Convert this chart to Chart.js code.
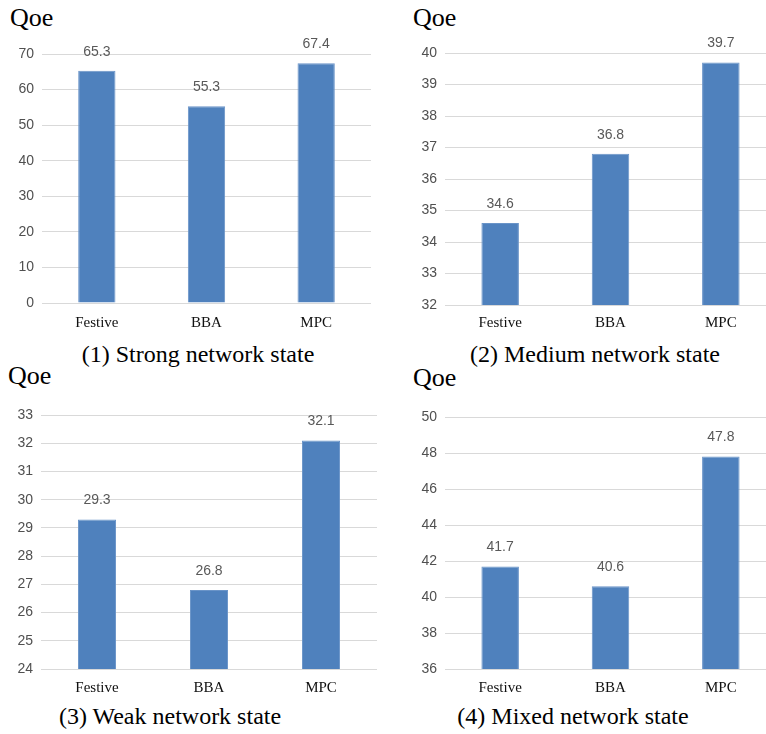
<!DOCTYPE html>
<html>
<head>
<meta charset="utf-8">
<script src="https://cdn.jsdelivr.net/npm/chart.js@4.4.0/dist/chart.umd.min.js"></script>
<style>
  html, body { margin: 0; padding: 0; background: #fff; overflow: hidden; }
  body { width: 766px; height: 734px; position: relative; }
  .box { position: absolute; }
  .txt { position: absolute; font-family: "Liberation Serif", "Times New Roman", serif; color: #000; line-height: 1; white-space: nowrap; }
  .qoe { font-size: 26px; }
  .cap { font-size: 24px; width: 340px; text-align: center; }
</style>
</head>
<body>

<div class="txt qoe" style="left:10px; top:5px;">Qoe</div>
<div class="txt qoe" style="left:413px; top:5px;">Qoe</div>
<div class="txt qoe" style="left:8px; top:363px;">Qoe</div>
<div class="txt qoe" style="left:413px; top:365px;">Qoe</div>

<div class="txt cap" style="left:28px; top:342px;">(1) Strong network state</div>
<div class="txt cap" style="left:425px; top:342px;">(2) Medium network state</div>
<div class="txt cap" style="left:0px; top:704px;">(3) Weak network state</div>
<div class="txt cap" style="left:403px; top:704px;">(4) Mixed network state</div>

<div class="box" style="left:0px; top:0px;"><canvas id="c1" width="383" height="340"></canvas></div>
<div class="box" style="left:383px; top:0px;"><canvas id="c2" width="400" height="340"></canvas></div>
<div class="box" style="left:0px; top:360px;"><canvas id="c3" width="383" height="340"></canvas></div>
<div class="box" style="left:383px; top:360px;"><canvas id="c4" width="400" height="340"></canvas></div>

<script>
// data
var methods = ['Festive', 'BBA', 'MPC'];
var strongQoe = [65.3, 55.3, 67.4];
var mediumQoe = [34.6, 36.8, 39.7];
var weakQoe = [29.3, 26.8, 32.1];
var mixedQoe = [41.7, 40.6, 47.8];

var strongTicks = [0, 70, 10];
var mediumTicks = [32, 40, 1];
var weakTicks = [24, 33, 1];
var mixedTicks = [36, 50, 2];

var barColor = '#4f81bd';
var gridColor = '#d9d9d9';
var tickColor = '#505050';

// value labels above the bars
const valueLabels = {
  id: 'valueLabels',
  afterDatasetsDraw: (chart) => {
    const {ctx} = chart;
    ctx.save();
    ctx.font = '14px "Liberation Sans", Arial, sans-serif';
    ctx.fillStyle = '#595959';
    ctx.textAlign = 'center';
    ctx.textBaseline = 'middle';
    chart.data.datasets.forEach((ds, i) => {
      chart.getDatasetMeta(i).data.forEach((bar, j) => {
        ctx.fillText(ds.data[j].toFixed(1), bar.x, bar.y - 19);
      });
    });
    ctx.restore();
  }
};

function makeChart(id, values, ticks, pad, yWidth, xHeight, xPad) {
  return new Chart(document.getElementById(id), {
    type: 'bar',
    data: {
      labels: methods,
      datasets: [{
        label: 'Qoe',
        data: values,
        backgroundColor: barColor,
        borderColor: '#6a94c8',
        borderWidth: 1,
        categoryPercentage: 1,
        barPercentage: 0.34
      }]
    },
    options: {
      responsive: false,
      animation: false,
      devicePixelRatio: 1,
      layout: { padding: pad },
      plugins: { legend: { display: false }, tooltip: { enabled: false } },
      scales: {
        x: {
          grid: { display: false, drawTicks: false },
          border: { display: false },
          ticks: {
            color: '#111',
            padding: xPad,
            font: { family: '"Liberation Serif", "Times New Roman", serif', size: 15 }
          },
          afterFit: (s) => { s.height = xHeight; }
        },
        y: {
          min: ticks[0],
          max: ticks[1],
          grid: { color: gridColor, lineWidth: 1, drawTicks: false },
          border: { display: false },
          ticks: {
            stepSize: ticks[2],
            color: tickColor,
            padding: 8,
            font: { family: '"Liberation Sans", Arial, sans-serif', size: 14 }
          },
          afterFit: (s) => { s.width = yWidth; }
        }
      }
    },
    plugins: [valueLabels]
  });
}

makeChart('c1', strongQoe, strongTicks, {top: 54, right: 12, bottom: 0, left: 0}, 42, 37, 11);
makeChart('c2', mediumQoe, mediumTicks, {top: 53, right: 7, bottom: 0, left: 0}, 62, 35, 9);
makeChart('c3', weakQoe, weakTicks, {top: 55, right: 6, bottom: 0, left: 0}, 41, 31, 10);
makeChart('c4', mixedQoe, mixedTicks, {top: 57, right: 7, bottom: 0, left: 0}, 62, 31, 10);
</script>
</body>
</html>
